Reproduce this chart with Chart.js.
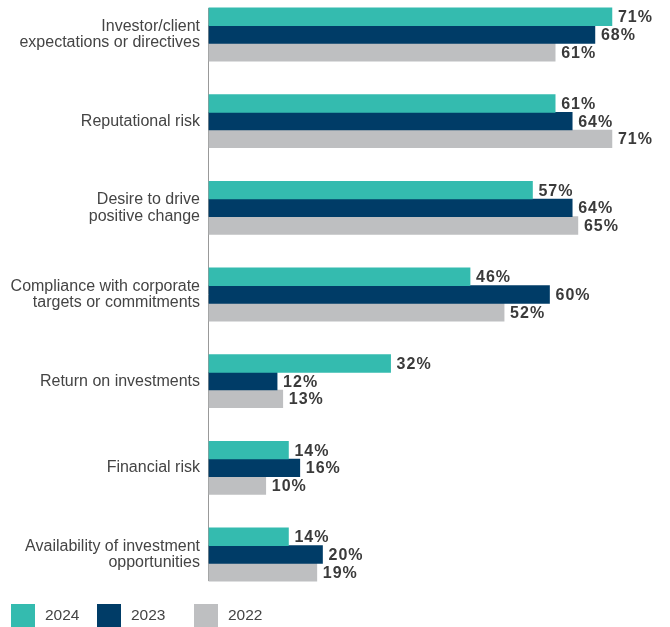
<!DOCTYPE html>
<html>
<head>
<meta charset="utf-8">
<script src="https://cdn.jsdelivr.net/npm/chart.js@4/dist/chart.umd.min.js"></script>
<style>
  body { margin: 0; background: #fff; }
  .wrap { position: relative; width: 670px; height: 627px; }
  .legend { position: absolute; top: 604px; left: 0; font: 15.5px "Liberation Sans", Arial, sans-serif; color: #444; }
  .legend span { position: absolute; white-space: nowrap; }
  .legend .box { width: 24px; height: 23px; top: 0; }
  .legend .txt { top: 2px; }
</style>
</head>
<body>
<div class="wrap">
  <canvas id="myChart" width="670" height="627"></canvas>
  <div class="legend" id="legend"></div>
</div>
<script>
{
  'use strict';

  const categories = [
    ['Investor/client', 'expectations or directives'],
    'Reputational risk',
    ['Desire to drive', 'positive change'],
    ['Compliance with corporate', 'targets or commitments'],
    'Return on investments',
    'Financial risk',
    ['Availability of investment', 'opportunities']
  ];
  const seriesNames = ['2024', '2023', '2022'];
  const values2024 = [71, 61, 57, 46, 32, 14, 14];
  const values2023 = [68, 64, 64, 60, 12, 16, 20];
  const values2022 = [61, 71, 65, 52, 13, 10, 19];
  const colors = ['#34bbaf', '#003c67', '#bebfc1'];

  const fontFamily = '"Liberation Sans", Arial, Helvetica, sans-serif';

  /* value labels at the end of each bar */
  const valueLabels = {
    id: 'valueLabels',
    afterDatasetsDraw(chart) {
      const ctx = chart.ctx;
      ctx.save();
      ctx.font = 'bold 16px ' + fontFamily;
      ctx.letterSpacing = '1px';
      ctx.fillStyle = '#3a3a3a';
      ctx.textBaseline = 'middle';
      chart.data.datasets.forEach(function(ds, i) {
        chart.getDatasetMeta(i).data.forEach(function(bar, j) {
          ctx.fillText(ds.data[j] + '%', bar.x + 6, bar.y + 1);
        });
      });
      ctx.restore();
    }
  };

  /* vertical axis line spanning the bars */
  const axisLine = {
    id: 'axisLine',
    beforeDatasetsDraw(chart) {
      const first = chart.getDatasetMeta(0).data[0];
      const lastMeta = chart.getDatasetMeta(chart.data.datasets.length - 1).data;
      const last = lastMeta[lastMeta.length - 1];
      const x = chart.chartArea.left - 0.5;
      const ctx = chart.ctx;
      ctx.save();
      ctx.strokeStyle = '#999';
      ctx.lineWidth = 1;
      ctx.beginPath();
      ctx.moveTo(x, first.y - first.height / 2);
      ctx.lineTo(x, last.y + last.height / 2);
      ctx.stroke();
      ctx.restore();
    }
  };

  const ctx = document.getElementById('myChart').getContext('2d');

  const chart = new Chart(ctx, {
    type: 'bar',
    data: {
      labels: categories,
      datasets: [values2024, values2023, values2022].map(function(vals, i) {
        return {
          label: seriesNames[i],
          data: vals,
          backgroundColor: colors[i],
          borderWidth: 0,
          barThickness: 17.7,
          clip: false
        };
      })
    },
    options: {
      indexAxis: 'y',
      responsive: false,
      animation: false,
      layout: { padding: { left: 0, right: 7, top: 34.5, bottom: 72.5 } },
      plugins: {
        legend: { display: false },
        tooltip: { enabled: false }
      },
      scales: {
        x: {
          display: false,
          min: 0,
          max: 80
        },
        y: {
          offset: false,
          grid: { display: false, drawTicks: false },
          border: { display: false },
          ticks: {
            padding: 9,
            color: '#444',
            font: { family: fontFamily, size: 16, lineHeight: 1.05 }
          },
          afterFit: function(scale) { scale.width = 209; }
        }
      }
    },
    plugins: [axisLine, valueLabels]
  });

  /* Legend */
  const legend = document.getElementById('legend');
  const boxLeft = [11, 97, 194];
  seriesNames.forEach(function(name, i) {
    const box = document.createElement('span');
    box.className = 'box';
    box.style.left = boxLeft[i] + 'px';
    box.style.background = colors[i];
    legend.appendChild(box);
    const txt = document.createElement('span');
    txt.className = 'txt';
    txt.style.left = (boxLeft[i] + 34) + 'px';
    txt.textContent = name;
    legend.appendChild(txt);
  });
}
</script>
</body>
</html>
